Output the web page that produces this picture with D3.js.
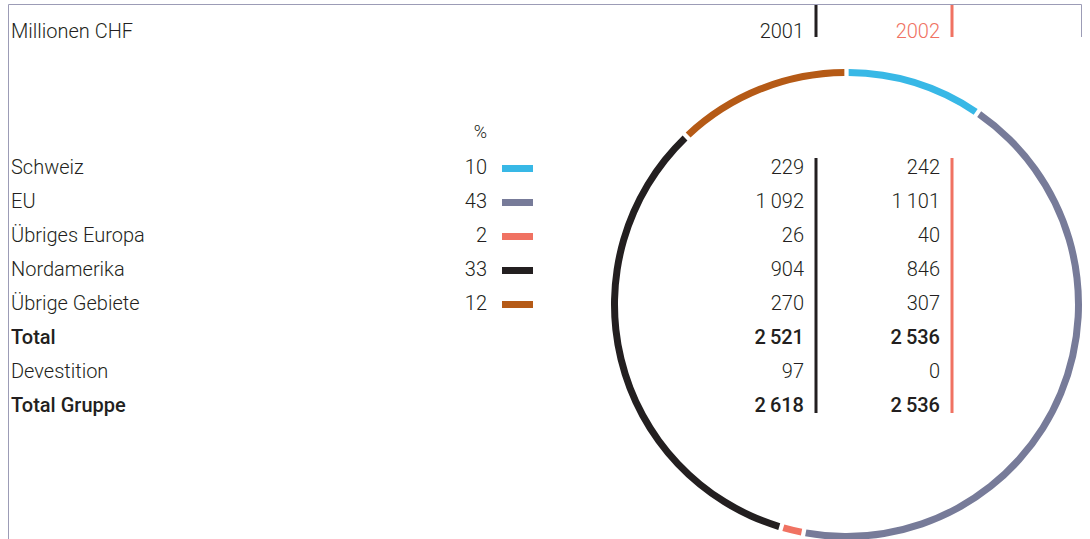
<!DOCTYPE html>
<html><head><meta charset="utf-8">
<script src="https://cdn.jsdelivr.net/npm/d3@7"></script>
<style>
body{margin:0;background:#fff;}
text{font-family:Roboto,"Noto Sans",sans-serif;fill:#231f20;}
</style></head>
<body><svg id="c" width="1090" height="539"></svg>
<script>
const unitLabel = "Millionen CHF";
const years = ["2001", "2002"];
const rowLabels = ["Schweiz","EU","Übriges Europa","Nordamerika","Übrige Gebiete","Total","Devestition","Total Gruppe"];
const boldRows = [false,false,false,false,false,true,false,true];
const shares = [10, 43, 2, 33, 12];
const values2001 = [229, 1092, 26, 904, 270, 2521, 97, 2618];
const values2002 = [242, 1101, 40, 846, 307, 2536, 0, 2536];
const regionColors = ["#38b8e6","#777b99","#f07262","#231f20","#b55a16"];
const yearColors = ["#231f20","#f07262"];

const svg = d3.select("#c");
const fmt = v => {
  const s = String(v);
  return s.length > 3 ? s.slice(0, s.length-3) + "\u2009" + s.slice(-3) : s;
};

// frame
const frame = "#9c9cb6";
svg.append("line").attr("x1",8.5).attr("x2",1081.5).attr("y1",4.5).attr("y2",4.5).attr("stroke",frame).attr("stroke-width",1);
svg.append("line").attr("x1",8.5).attr("x2",8.5).attr("y1",4.5).attr("y2",539).attr("stroke",frame).attr("stroke-width",1);
svg.append("line").attr("x1",1081.5).attr("x2",1081.5).attr("y1",4.5).attr("y2",37).attr("stroke",frame).attr("stroke-width",1);

// ring
const cx = 846.5, cy = 304.5, r = 232;
const pie = d3.pie().sort(null).value(d => d)(values2002.slice(0,5));
const arc = d3.arc().innerRadius(r-3.5).outerRadius(r+3.5).padAngle(0.013);
svg.append("g").attr("transform",`translate(${cx},${cy})`)
  .selectAll("path").data(pie).join("path")
  .attr("d", arc).attr("fill", (d,i) => regionColors[i]);

// rows
const y = d3.scaleLinear().domain([0, 7]).range([167, 405]);
const fs = 20;
const normalW = 300, boldW = 500;
svg.append("text").attr("x",11).attr("y",31).attr("dy","0.35em").attr("font-size",fs).attr("font-weight",normalW).text(unitLabel);

const xCol = [804, 940], xBar = [816, 952];
years.forEach((yr,i) => {
  svg.append("text").attr("x",xCol[i]).attr("y",31).attr("dy","0.35em").attr("text-anchor","end")
    .attr("font-size",fs).attr("font-weight",normalW).style("fill", i===1 ? yearColors[1] : "#231f20").text(yr);
  svg.append("rect").attr("x",xBar[i]-1.5).attr("y",5).attr("width",3).attr("height",32).attr("fill",yearColors[i]);
  svg.append("rect").attr("x",xBar[i]-1.5).attr("y",y(0)-9).attr("width",3).attr("height",y(7)-y(0)+17).attr("fill",yearColors[i]);
});

svg.append("text").attr("x",487).attr("y",132).attr("dy","0.35em").attr("text-anchor","end").attr("font-size",fs-2).attr("font-weight",normalW).text("%");

const rows = svg.append("g");
rowLabels.forEach((lab,i) => {
  const w = boldRows[i] ? boldW : normalW;
  rows.append("text").attr("x",11).attr("y",y(i)).attr("dy","0.35em").attr("font-size",fs).attr("font-weight",w).text(lab);
  rows.append("text").attr("x",xCol[0]).attr("y",y(i)).attr("dy","0.35em").attr("text-anchor","end").attr("font-size",fs).attr("font-weight",w).text(fmt(values2001[i]));
  rows.append("text").attr("x",xCol[1]).attr("y",y(i)).attr("dy","0.35em").attr("text-anchor","end").attr("font-size",fs).attr("font-weight",w).text(fmt(values2002[i]));
  if (i < shares.length) {
    rows.append("text").attr("x",487).attr("y",y(i)).attr("dy","0.35em").attr("text-anchor","end").attr("font-size",fs).attr("font-weight",normalW).text(shares[i]);
    rows.append("rect").attr("x",502).attr("y",y(i)-2).attr("width",31).attr("height",7).attr("fill",regionColors[i]);
  }
});
</script></body></html>
